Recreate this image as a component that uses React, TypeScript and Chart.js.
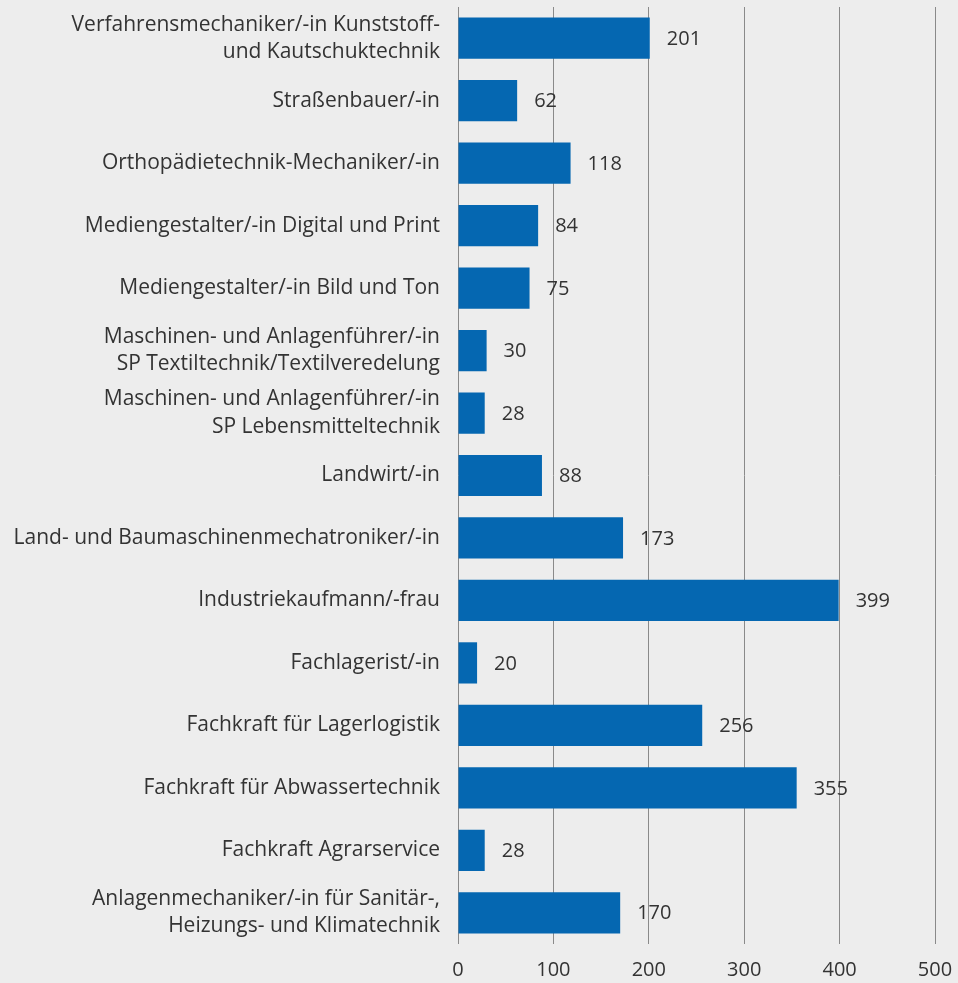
import React, { useEffect, useRef } from "react";
import { Chart, registerables } from "chart.js";

Chart.register(...registerables);

const categories: (string | string[])[] = [
  ["Verfahrensmechaniker/-in Kunststoff-", "und Kautschuktechnik"],
  "Straßenbauer/-in",
  "Orthopädietechnik-Mechaniker/-in",
  "Mediengestalter/-in Digital und Print",
  "Mediengestalter/-in Bild und Ton",
  ["Maschinen- und Anlagenführer/-in", "SP Textiltechnik/Textilveredelung"],
  ["Maschinen- und Anlagenführer/-in", "SP Lebensmitteltechnik"],
  "Landwirt/-in",
  "Land- und Baumaschinenmechatroniker/-in",
  "Industriekaufmann/-frau",
  "Fachlagerist/-in",
  "Fachkraft für Lagerlogistik",
  "Fachkraft für Abwassertechnik",
  "Fachkraft Agrarservice",
  ["Anlagenmechaniker/-in für Sanitär-,", "Heizungs- und Klimatechnik"],
];

const values: number[] = [201, 62, 118, 84, 75, 30, 28, 88, 173, 399, 20, 256, 355, 28, 170];

const xTicks: number[] = [0, 100, 200, 300, 400, 500];

const FONT = "'Open Sans', 'Noto Sans', sans-serif";
const TEXT = "#333333";

const valueLabels = {
  id: "valueLabels",
  afterDatasetsDraw(chart: any) {
    const ctx = chart.ctx;
    const meta = chart.getDatasetMeta(0);
    ctx.save();
    ctx.font = `20px ${FONT}`;
    ctx.fillStyle = TEXT;
    ctx.textAlign = "left";
    ctx.textBaseline = "middle";
    meta.data.forEach((bar: any, i: number) => {
      ctx.fillText(String(values[i]), bar.x + 17, bar.y + 1);
    });
    ctx.restore();
  },
};

export default function App() {
  const ref = useRef<HTMLCanvasElement | null>(null);
  useEffect(() => {
    document.body.style.margin = "0";
    const chart = new Chart(ref.current as HTMLCanvasElement, {
      type: "bar",
      data: {
        labels: categories,
        datasets: [
          {
            data: values,
            backgroundColor: "#0567b1",
            borderWidth: 0,
            barPercentage: 0.66,
            categoryPercentage: 1,
          },
        ],
      },
      options: {
        indexAxis: "y",
        responsive: false,
        animation: false,
        layout: { padding: { top: 7, right: 23, left: 0, bottom: 0 } },
        plugins: { legend: { display: false }, tooltip: { enabled: false } },
        scales: {
          x: {
            min: 0,
            max: 500,
            afterBuildTicks: (scale: any) => {
              scale.ticks = xTicks.map((v) => ({ value: v }));
            },
            afterFit: (scale: any) => {
              scale.height = 39;
              scale.paddingLeft = 0;
              scale.paddingRight = 0;
            },
            grid: { color: "#8a8a8a", lineWidth: 1, drawTicks: false },
            border: { display: false },
            ticks: {
              padding: 14,
              color: TEXT,
              font: { family: FONT, size: 20 },
            },
          },
          y: {
            afterFit: (scale: any) => {
              scale.width = 458;
              scale.paddingTop = 0;
              scale.paddingBottom = 0;
            },
            grid: { display: false, drawTicks: false },
            border: { display: false },
            ticks: {
              padding: 18,
              color: TEXT,
              font: { family: FONT, size: 21, lineHeight: 1.3 },
            },
          },
        },
      },
      plugins: [valueLabels],
    });
    return () => chart.destroy();
  }, []);
  return (
    <div style={{ position: "absolute", left: 0, top: 0, width: 958, height: 983, background: "#ededed" }}>
      <canvas ref={ref} width={958} height={983} />
    </div>
  );
}
